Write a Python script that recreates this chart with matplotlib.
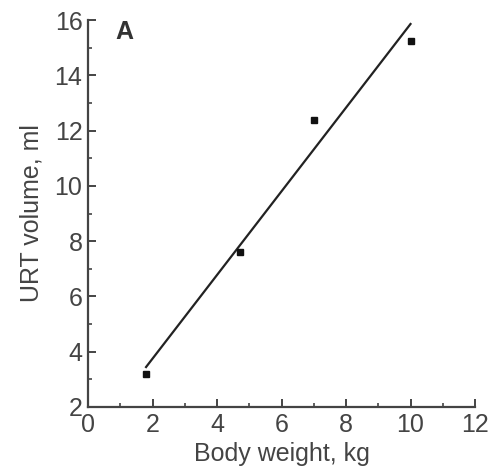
import matplotlib.pyplot as plt
import numpy as np

plt.rcParams['font.family'] = ['Liberation Sans', 'DejaVu Sans']

# data
body_weight = [1.8, 4.7, 7.0, 10.0]
urt_volume = [3.2, 7.6, 12.4, 15.25]

fig = plt.figure(figsize=(4.94, 4.70), dpi=100)
ax = fig.add_axes([88 / 494, 1 - 407 / 470, 387 / 494, 387 / 470])

# linear fit over the data range
k, b = np.polyfit(body_weight, urt_volume, 1)
xf = np.array([min(body_weight), max(body_weight)])
ax.plot(xf, k * xf + b, color='#222222', lw=1.6)
ax.plot(body_weight, urt_volume, 's', color='#111111', ms=5)

ax.set_xlim(0, 12)
ax.set_ylim(2, 16)
ax.set_xticks(range(0, 13, 2))
ax.set_xticks(range(1, 12, 2), minor=True)
ax.set_yticks(range(2, 17, 2))
ax.set_yticks(range(3, 16, 2), minor=True)

for s in ['top', 'right']:
    ax.spines[s].set_visible(False)
for s in ['left', 'bottom']:
    ax.spines[s].set_linewidth(1.6)
    ax.spines[s].set_color('#444444')

ax.tick_params(which='major', direction='in', length=6, width=1.4,
               colors='#444444', labelsize=18, labelcolor='#444444', pad=4)
ax.tick_params(which='minor', direction='in', length=3, width=1.2, colors='#444444')

ax.set_xlabel('Body weight, kg', fontsize=18, color='#444444', labelpad=4)
ax.set_ylabel('URT volume, ml', fontsize=18, color='#444444', labelpad=8)
ax.text(0.095, 0.97, 'A', transform=ax.transAxes, fontsize=18, fontweight='bold',
        color='#333333', va='center', ha='center')

fig.savefig('out.png', dpi=100)
